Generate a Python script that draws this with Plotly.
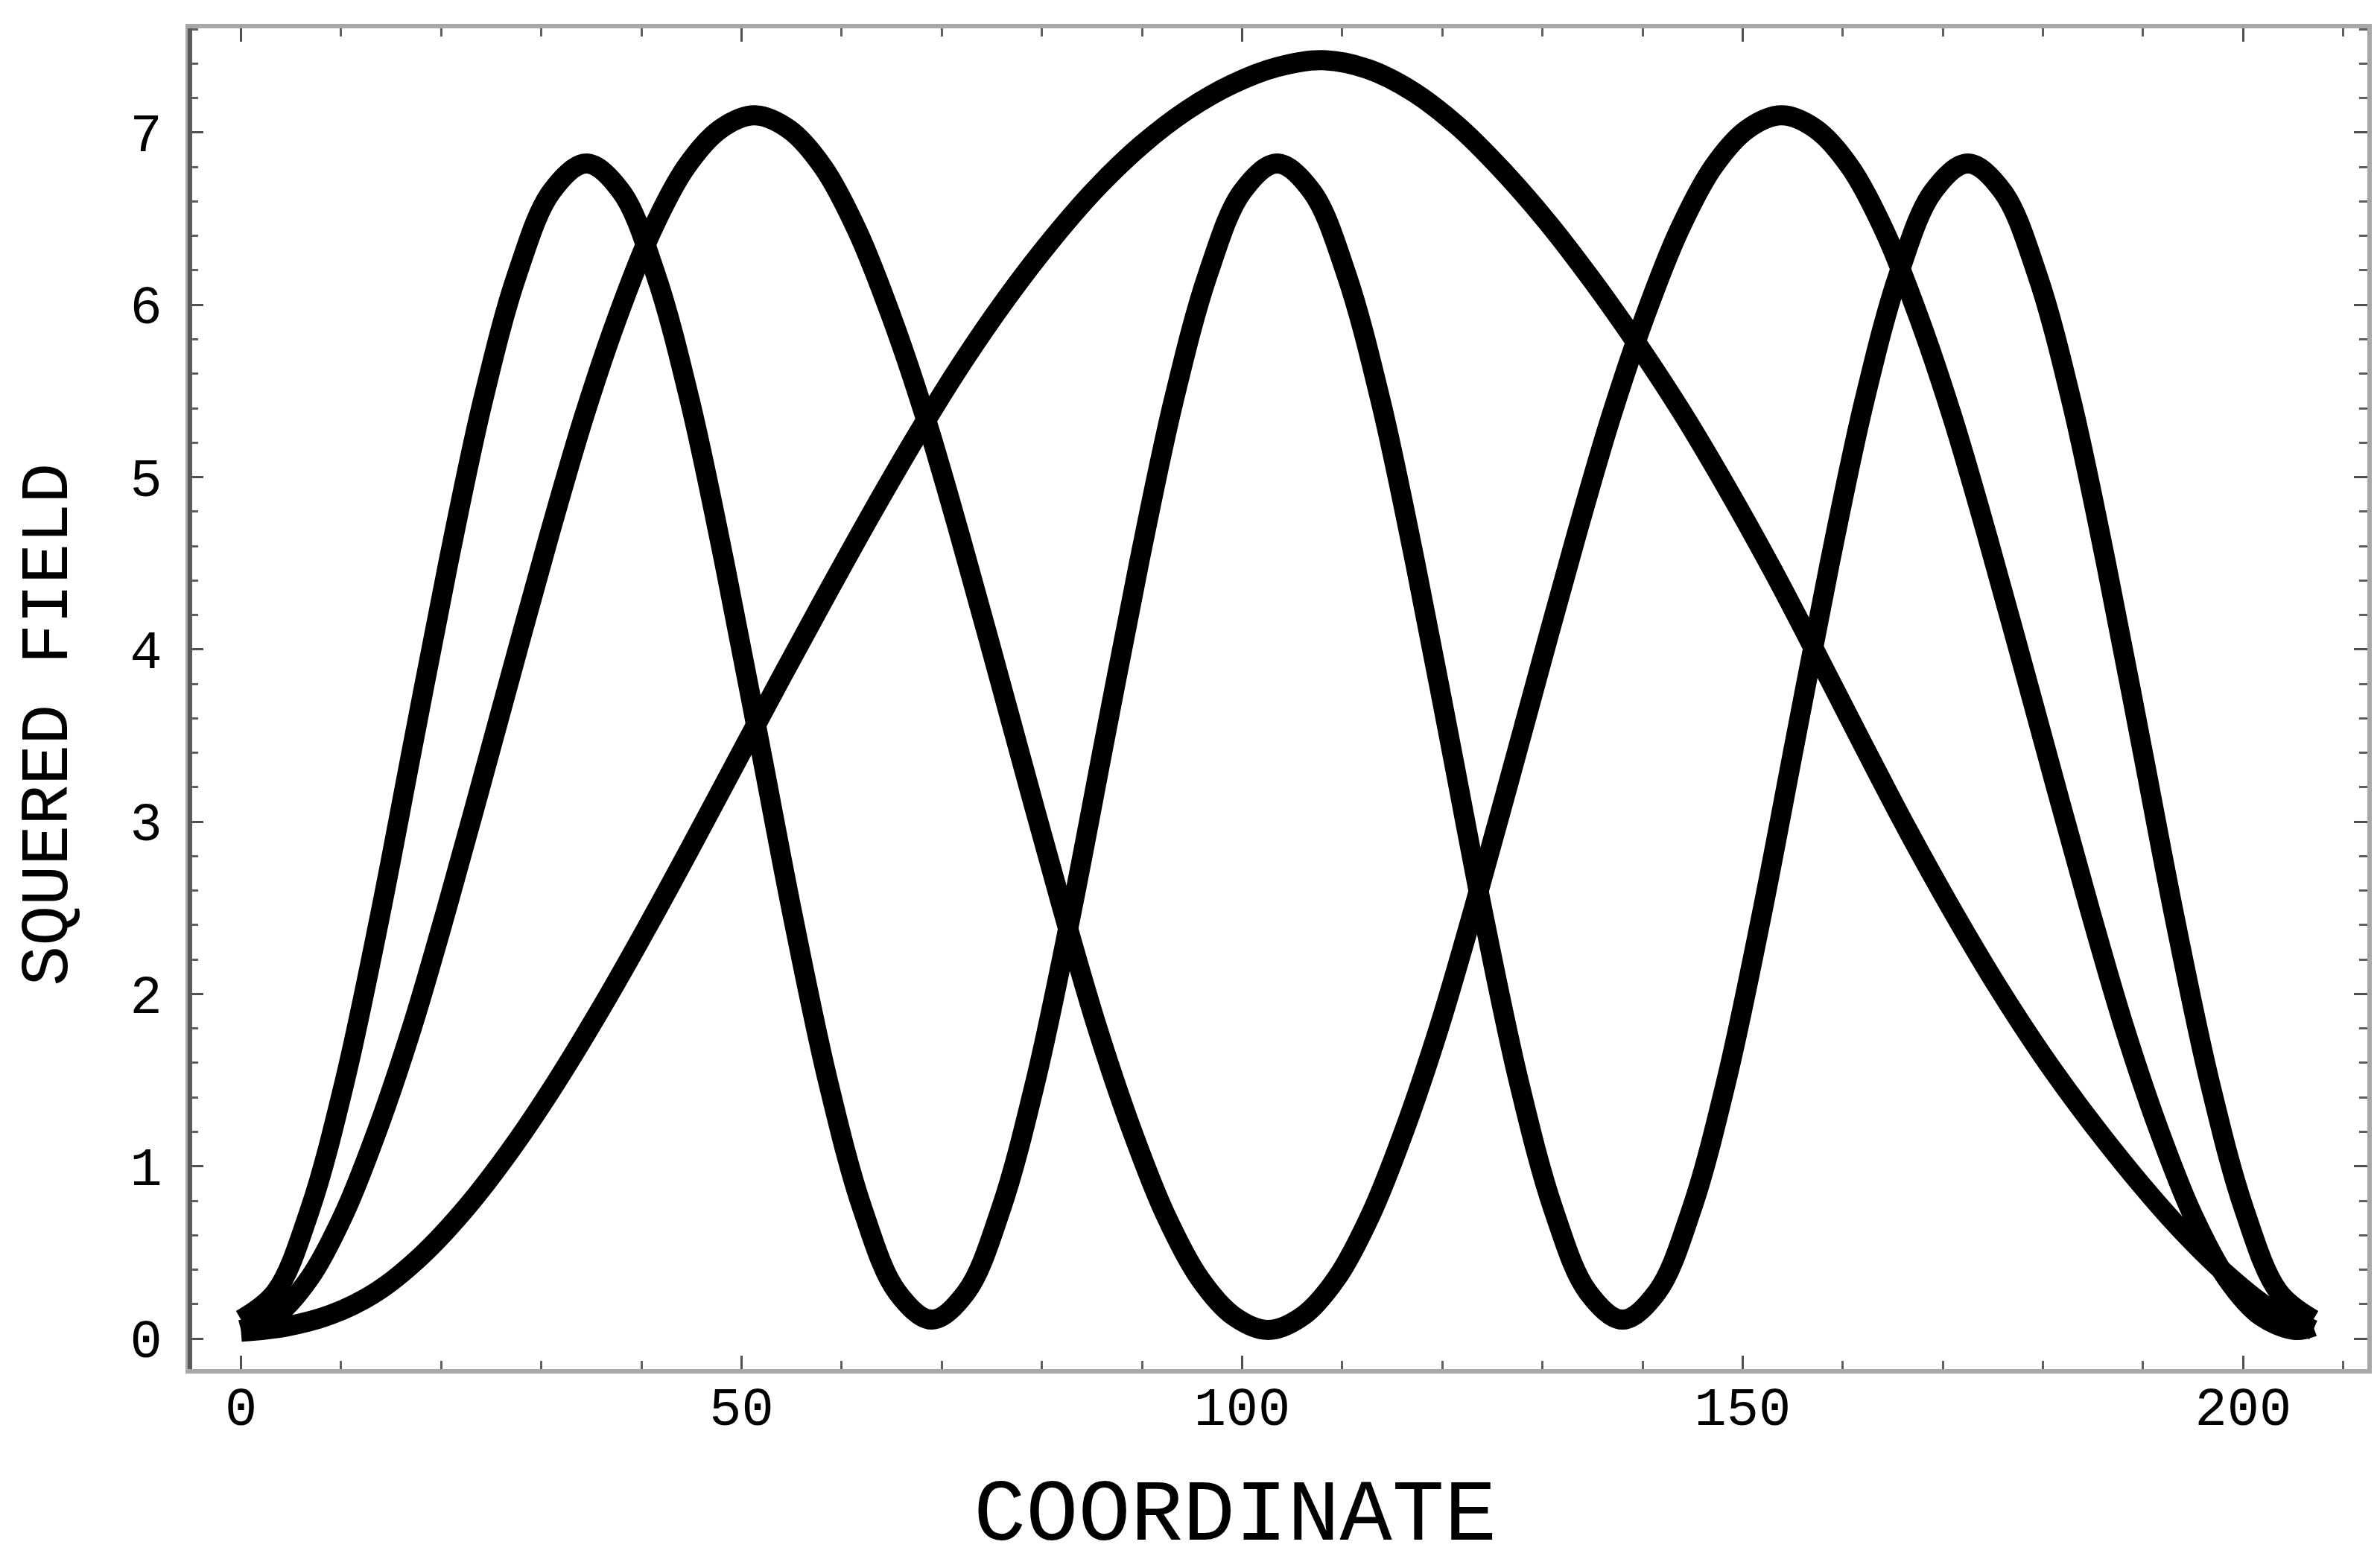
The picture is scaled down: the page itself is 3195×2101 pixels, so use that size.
import plotly.graph_objects as go

# mode 1 (single hump, slightly skewed to the right)
x_mode1 = [0, 4.5, 9, 13.5, 18, 22.5, 27, 31.5, 36, 40.5, 45, 49.5, 54, 58.5, 63, 67.5,
           72, 76.5, 81, 85.5, 90, 94.5, 99, 103.5, 108, 112.5, 117, 121.5, 126, 130.5,
           135, 139.5, 144, 148.5, 153, 157.5, 162, 166.5, 171, 175.5, 180, 184.5, 189,
           193.5, 198, 202.5, 207]
y_mode1 = [0.04, 0.07, 0.14, 0.27, 0.48, 0.76, 1.10, 1.49, 1.92, 2.38, 2.86, 3.35, 3.84,
           4.32, 4.79, 5.24, 5.66, 6.04, 6.38, 6.68, 6.93, 7.13, 7.28, 7.38, 7.42, 7.37,
           7.24, 7.04, 6.78, 6.48, 6.14, 5.77, 5.37, 4.93, 4.46, 3.96, 3.45, 2.95, 2.48,
           2.04, 1.64, 1.28, 0.95, 0.65, 0.39, 0.18, 0.05]

# mode 2 (two humps)
x_mode2 = [0, 3.42, 6.84, 10.26, 13.68, 17.1, 20.52, 23.94, 27.36, 30.78, 34.2, 37.62,
           41.04, 44.46, 47.88, 51.3, 54.72, 58.14, 61.56, 64.98, 68.4, 71.82, 75.24,
           78.66, 82.08, 85.5, 88.92, 92.34, 95.76, 99.18, 102.6, 106.02, 109.44, 112.86,
           116.28, 119.7, 123.12, 126.54, 129.96, 133.38, 136.8, 140.22, 143.64, 147.06,
           150.48, 153.9, 157.32, 160.74, 164.16, 167.58, 171.0, 174.42, 177.84, 181.26,
           184.68, 188.1, 191.52, 194.94, 198.36, 201.78, 205.2, 207]
y_mode2 = [0.05, 0.13, 0.35, 0.72, 1.22, 1.81, 2.49, 3.21, 3.94, 4.66, 5.34, 5.93, 6.43,
           6.80, 7.02, 7.10, 7.02, 6.80, 6.43, 5.93, 5.34, 4.66, 3.94, 3.21, 2.49, 1.81,
           1.22, 0.72, 0.35, 0.13, 0.05, 0.13, 0.35, 0.72, 1.22, 1.81, 2.49, 3.21, 3.94,
           4.66, 5.34, 5.93, 6.43, 6.80, 7.02, 7.10, 7.02, 6.80, 6.43, 5.93, 5.34, 4.66,
           3.94, 3.21, 2.49, 1.81, 1.22, 0.72, 0.35, 0.13, 0.05, 0.07]

# mode 3 (three humps)
x_mode3 = [0, 3.45, 6.9, 10.35, 13.8, 17.25, 20.7, 24.15, 27.6, 31.05, 34.5, 37.95, 41.4,
           44.85, 48.3, 51.75, 55.2, 58.65, 62.1, 65.55, 69.0, 72.45, 75.9, 79.35, 82.8,
           86.25, 89.7, 93.15, 96.6, 100.05, 103.5, 106.95, 110.4, 113.85, 117.3, 120.75,
           124.2, 127.65, 131.1, 134.55, 138.0, 141.45, 144.9, 148.35, 151.8, 155.25,
           158.7, 162.15, 165.6, 169.05, 172.5, 175.95, 179.4, 182.85, 186.3, 189.75,
           193.2, 196.65, 200.1, 203.55, 207.0]
y_mode3 = [0.11, 0.27, 0.75, 1.49, 2.43, 3.47, 4.50, 5.44, 6.18, 6.66, 6.82, 6.66, 6.18,
           5.44, 4.50, 3.47, 2.43, 1.49, 0.75, 0.27, 0.11, 0.27, 0.75, 1.49, 2.43, 3.47,
           4.50, 5.44, 6.18, 6.66, 6.82, 6.66, 6.18, 5.44, 4.50, 3.47, 2.43, 1.49, 0.75,
           0.27, 0.11, 0.27, 0.75, 1.49, 2.43, 3.47, 4.50, 5.44, 6.18, 6.66, 6.82, 6.66,
           6.18, 5.44, 4.50, 3.47, 2.43, 1.49, 0.75, 0.27, 0.11]

x_title = "COORDINATE"
y_title = "SQUERED FIELD"

mono = "Liberation Mono, Courier New, monospace"

fig = go.Figure()

for xs, ys in [(x_mode1, y_mode1), (x_mode2, y_mode2), (x_mode3, y_mode3)]:
    fig.add_trace(
        go.Scatter(
            x=xs,
            y=ys,
            mode='lines',
            line=dict(color='black', width=27, shape='spline', smoothing=1.0),
            showlegend=False,
            hoverinfo='skip'
        )
    )

axis_common = dict(
    showgrid=False,
    zeroline=False,
    showline=True,
    linecolor='#a8a8a8',
    linewidth=6,
    mirror='allticks',
    ticks='inside',
    ticklen=18,
    tickwidth=3,
    tickcolor='#505050',
    tickfont=dict(family=mono, size=72, color='black'),
)

fig.update_xaxes(
    range=[-5.1, 212.4],
    tick0=0,
    dtick=50,
    ticklabelstandoff=-17,
    minor=dict(dtick=10, ticks='inside', ticklen=11, tickwidth=3, tickcolor='#606060'),
    **axis_common
)
fig.update_yaxes(
    range=[-0.177, 7.605],
    tick0=0,
    dtick=1,
    ticklabelstandoff=17,
    minor=dict(dtick=0.2, ticks='inside', ticklen=11, tickwidth=3, tickcolor='#606060'),
    **axis_common
)

# darker left edge of the frame
fig.add_shape(type='line', xref='paper', yref='paper', x0=0, x1=0, y0=0, y1=1,
              line=dict(color='#5a5a5a', width=6), layer='above')

fig.add_annotation(text=x_title, xref='paper', yref='paper', x=0.48, y=-0.110,
                   xanchor='center', yanchor='middle', showarrow=False,
                   font=dict(family=mono, size=117, color='black'))
fig.add_annotation(text=y_title, xref='paper', yref='paper', x=-0.0647, y=0.4806,
                   xanchor='center', yanchor='middle', showarrow=False, textangle=-90,
                   font=dict(family=mono, size=90, color='black'))

fig.update_layout(
    width=3195,
    height=2101,
    autosize=False,
    margin=dict(l=247, r=25, t=30, b=271),
    paper_bgcolor='white',
    plot_bgcolor='white',
)

fig.write_html("out.html")
